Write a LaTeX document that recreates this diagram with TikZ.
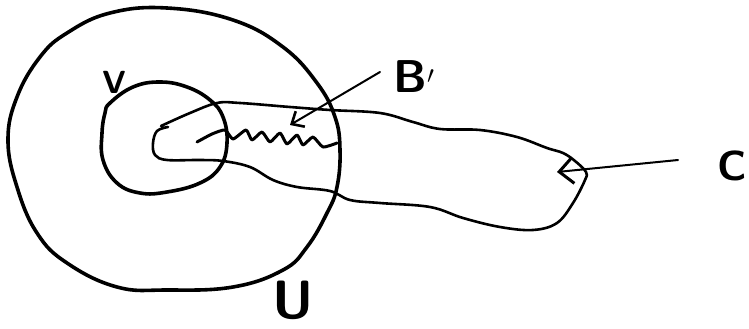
\documentclass[tikz,border=0pt]{standalone}
\usepackage{fontspec}
\usetikzlibrary{arrows.meta}
\tikzset{
  hand/.style={draw=black, line width=3.6pt, line cap=round, line join=round},
  thinhand/.style={draw=black, line width=2.6pt, line cap=round, line join=round},
  pointer/.style={draw=black, line width=2pt, line cap=round,
    -{Straight Barb[length=10pt,width=18pt,line width=2.6pt]}},
  lbl/.style={inner sep=0pt, font=\sffamily\bfseries},
}
\begin{document}
\begin{tikzpicture}[x=1pt,y=-1pt]
\useasboundingbox (0,0) rectangle (749,329);
% big set U
\draw[hand] plot[smooth cycle, tension=0.7] coordinates {
 (110,13) (167,8) (233,20) (283,47) (317,83) (335,117) (340,150) (337,187)
 (327,213) (307,247) (283,270) (233,287) (167,290) (117,287) (67,263)
 (37,233) (17,187) (8,140) (17,97) (40,57) (67,33)};
% small set V
\draw[hand] plot[smooth cycle, tension=0.7] coordinates {
 (110,103) (133,87) (160,82) (187,87) (210,100) (223,117) (227,143) (220,167)
 (200,183) (167,192) (140,193) (117,183) (103,160) (102,133) (105,113)};
% set C
\draw[thinhand] plot[smooth, tension=0.6] coordinates {
 (168,127) (157,131) (153,143) (155,155) (167,160) (200,160) (223,161)
 (250,167) (273,180) (297,187) (330,191) (350,200) (380,203) (430,207)
 (463,218) (500,227) (533,230) (557,223) (573,203) (585,180) (586,172)
 (575,161) (563,153) (547,148) (517,137) (480,130) (440,129) (413,122)
 (380,113) (330,110) (290,107) (240,103) (217,103) (190,113) (161,126)};
% squiggle B'
\draw[hand, line width=3pt] plot[smooth, tension=0.35] coordinates {
 (197,142) (212,134) (225,130) (233,139) (246,130) (252,140) (262,132)
 (270,142) (280,133) (287,144) (297,135) (303,145) (313,137) (323,147) (337,143)};
% labels
\node[lbl, font=\sffamily\bfseries\fontsize{32}{32}\selectfont] (V) at (114,82) {V};
\node[lbl, font=\sffamily\bfseries\fontsize{46}{46}\selectfont] (B) at (414,77) {B$'$};
\node[lbl, font=\sffamily\bfseries\fontsize{42}{42}\selectfont] (C) at (732,166) {C};
\node[lbl, font=\sffamily\bfseries\fontsize{54}{54}\selectfont] (U) at (293,300) {U};
% pointers
\coordinate (bs) at (380,72);
\coordinate (bt) at (290,125);
\coordinate (cs) at (678,160);
\coordinate (ct) at (557,172);
\draw[pointer] (bs) -- (bt);
\draw[pointer, -{Straight Barb[length=14pt,width=26pt,line width=3pt]}] (cs) -- (ct);
\end{tikzpicture}
\end{document}
